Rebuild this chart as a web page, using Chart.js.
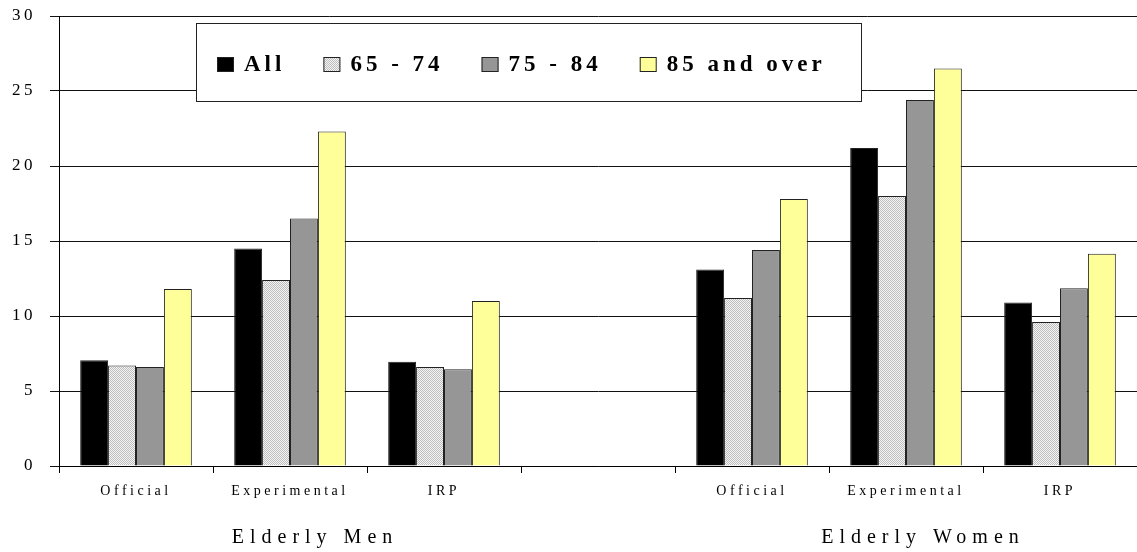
<!DOCTYPE html>
<html>
<head>
<meta charset="utf-8">
<script src="https://cdn.jsdelivr.net/npm/chart.js@4.4.0/dist/chart.umd.min.js"></script>
<style>
  body { margin: 0; background: #fff; }
  canvas { display: block; }
</style>
</head>
<body>
<canvas id="myChart" width="1137" height="552"></canvas>
<script>
// data
const categories = ['Official', 'Experimental', 'IRP', '', 'Official', 'Experimental', 'IRP'];
const groups = ['Elderly Men', 'Elderly Women'];
const seriesNames = ['All', '65 - 74', '75 - 84', '85 and over'];
const allAges = [7.05, 14.5, 6.95, null, 13.1, 21.2, 10.9];
const age65to74 = [6.7, 12.4, 6.6, null, 11.2, 18.0, 9.6];
const age75to84 = [6.6, 16.5, 6.45, null, 14.4, 24.4, 11.85];
const age85plus = [11.8, 22.3, 11.0, null, 17.8, 26.5, 14.15];
const yMin = 0;
const yMax = 30;
const yStep = 5;

const SERIF = '"Liberation Serif", "Times New Roman", serif';

let canvas = document.getElementById('myChart');
let ctx = canvas.getContext('2d');

// light gray stipple used for the 65 - 74 bars
function makeDots() {
  const c = document.createElement('canvas');
  c.width = 2; c.height = 2;
  const g = c.getContext('2d');
  g.fillStyle = '#f4f4f4';
  g.fillRect(0, 0, 2, 2);
  g.fillStyle = '#bdbdbd';
  g.fillRect(0, 0, 1, 1);
  g.fillRect(1, 1, 1, 1);
  return ctx.createPattern(c, 'repeat');
}

const overlay = {
  id: 'overlay',
  beforeDraw(chart) {
    chart.ctx.letterSpacing = '3.5px';
  },
  afterDraw(chart) {
    const c = chart.ctx;
    const x = chart.scales.x;
    c.save();
    c.fillStyle = '#000';
    c.textBaseline = 'middle';

    // group names under the category labels
    c.font = '20px ' + SERIF;
    c.letterSpacing = '6px';
    c.textAlign = 'center';
    c.fillText(groups[0], x.getPixelForValue(1) + 25, 538);
    c.fillText(groups[1], x.getPixelForValue(5) + 17, 538);

    // legend box inside the plot
    const bx = 196, by = 23, bw = 665, bh = 78;
    c.fillStyle = '#fff';
    c.fillRect(bx, by, bw, bh);
    c.strokeStyle = '#222';
    c.lineWidth = 1;
    c.strokeRect(bx + 0.5, by + 0.5, bw, bh);

    c.font = 'bold 23px ' + SERIF;
    c.letterSpacing = '4px';
    c.textAlign = 'left';
    let lx = 217;
    chart.data.datasets.forEach(ds => {
      c.fillStyle = ds.backgroundColor;
      c.fillRect(lx, 57, 17, 15);
      c.strokeStyle = '#222';
      c.strokeRect(lx + 0.5, 57.5, 16, 14);
      c.fillStyle = '#000';
      c.fillText(ds.label, lx + 27, 65);
      lx += 27 + c.measureText(ds.label).width + 38;
    });
    c.restore();
    c.letterSpacing = '0px';
  }
};

let myChart = new Chart(ctx, {
  type: 'bar',
  data: {
    labels: categories,
    datasets: [
      { label: seriesNames[0], data: allAges, backgroundColor: '#000000' },
      { label: seriesNames[1], data: age65to74, backgroundColor: makeDots() },
      { label: seriesNames[2], data: age75to84, backgroundColor: '#969696' },
      { label: seriesNames[3], data: age85plus, backgroundColor: '#ffff99' }
    ]
  },
  options: {
    responsive: false,
    animation: false,
    layout: { padding: { top: 16, right: 0, bottom: 0, left: 0 } },
    datasets: {
      bar: {
        categoryPercentage: 0.725,
        barPercentage: 1,
        borderWidth: 1,
        borderColor: '#222'
      }
    },
    plugins: {
      legend: { display: false },
      tooltip: { enabled: false }
    },
    scales: {
      x: {
        grid: { drawOnChartArea: false, tickLength: 7, color: '#000' },
        border: { color: '#000', width: 1 },
        ticks: {
          color: '#000',
          font: { family: SERIF, size: 14 },
          padding: 10,
          maxRotation: 0,
          autoSkip: false
        },
        afterFit(scale) { scale.height = 86; }
      },
      y: {
        min: yMin,
        max: yMax,
        grid: { color: '#111', lineWidth: 1, tickLength: 9 },
        border: { color: '#000', width: 1 },
        ticks: {
          stepSize: yStep,
          color: '#000',
          font: { family: SERIF, size: 17 },
          padding: 14
        },
        afterFit(scale) {
          scale.width = 59;
          scale.paddingTop = 0;
          scale.paddingBottom = 0;
        }
      }
    }
  },
  plugins: [overlay]
});
</script>
</body>
</html>
